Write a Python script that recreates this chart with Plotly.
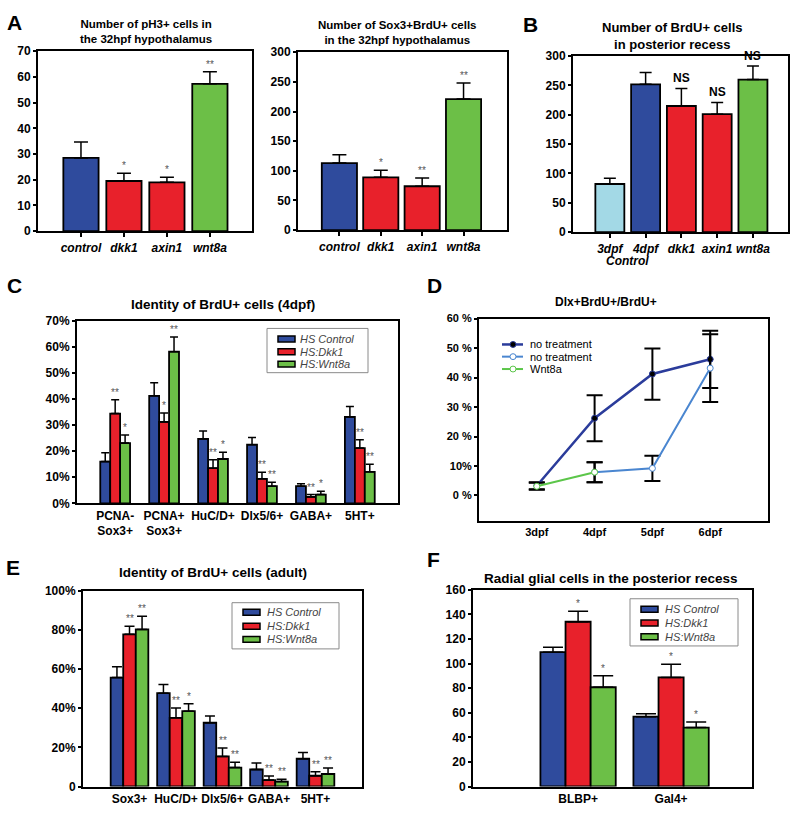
import plotly.graph_objects as go

FW, FH = 800, 823
FONT = "Liberation Sans, Arial, sans-serif"
BLUE = "#2f4b9d"
RED = "#e8212b"
GREEN = "#6cbf47"
CYAN = "#a3d9e6"
D_DARK = "#2b3c9b"
D_LIGHT = "#4a86d0"
D_GREEN = "#5cc64a"
SIG_COLOR = "#555555"

# ---------------- data ----------------
# Panel A (left): pH3+ cells
a_cats = ["control", "dkk1", "axin1", "wnt8a"]
a1_vals = [28.5, 19.5, 19.0, 57.3]
a1_err = [6.2, 3.0, 2.0, 4.7]
a1_sig = ["", "*", "*", "**"]
# Panel A (right): Sox3+BrdU+ cells
a2_vals = [113, 89, 74, 221]
a2_err = [14, 12, 14, 27]
a2_sig = ["", "*", "**", "**"]
# Panel B
b_cats = ["3dpf", "4dpf", "dkk1", "axin1", "wnt8a"]
b_vals = [82, 252, 215, 201, 260]
b_err = [10, 20, 30, 20, 23]
b_sig = ["", "", "NS", "NS", "NS"]
# Panel C (4dpf identity, %)
c_cats = ["PCNA-<br>Sox3+", "PCNA+<br>Sox3+", "HuC/D+", "Dlx5/6+", "GABA+", "5HT+"]
c_ctrl = [16.0, 41.2, 24.7, 22.5, 6.6, 33.1]
c_ctrl_err = [3.4, 5.0, 3.0, 2.7, 0.9, 4.0]
c_dkk1 = [34.4, 31.2, 13.5, 9.4, 2.5, 21.2]
c_dkk1_err = [5.3, 3.4, 3.2, 2.5, 0.9, 3.2]
c_wnt = [23.1, 58.1, 17.0, 6.6, 3.4, 12.1]
c_wnt_err = [3.1, 5.6, 2.6, 1.5, 1.3, 2.9]
c_sig_dkk1 = ["**", "*", "**", "**", "**", "**"]
c_sig_wnt = ["*", "**", "*", "**", "*", "**"]
# Panel D (Dlx+BrdU+/BrdU+, %)
d_days = ["3dpf", "4dpf", "5dpf", "6dpf"]
d_nt_x = ["3dpf", "4dpf", "5dpf", "6dpf"]
d_nt = [3.3, 26.2, 41.2, 46.2]
d_nt_err = [1.2, 7.8, 8.7, 9.7]
d_nt2_x = ["4dpf", "5dpf", "6dpf"]
d_nt2 = [7.9, 9.2, 43.2]
d_nt2_err = [3.4, 4.3, 11.5]
d_wnt_x = ["3dpf", "4dpf"]
d_wnt = [3.1, 7.9]
d_wnt_err = [1.2, 3.4]
d_names = ["no treatment", "no treatment", "Wnt8a"]
# Panel E (adult identity, %)
e_cats = ["Sox3+", "HuC/D+", "Dlx5/6+", "GABA+", "5HT+"]
e_ctrl = [55.7, 47.7, 32.6, 8.7, 14.2]
e_ctrl_err = [5.5, 4.5, 3.4, 3.3, 3.2]
e_dkk1 = [77.8, 35.1, 15.4, 3.3, 5.5]
e_dkk1_err = [4.1, 5.0, 4.3, 2.1, 2.0]
e_wnt = [80.3, 38.5, 9.7, 2.5, 6.4]
e_wnt_err = [6.7, 3.8, 2.7, 1.2, 3.1]
e_sig_dkk1 = ["**", "**", "**", "**", "**"]
e_sig_wnt = ["**", "*", "**", "**", "**"]
# Panel F (radial glial cells)
f_cats = ["BLBP+", "Gal4+"]
f_ctrl = [109.3, 56.8]
f_ctrl_err = [4.0, 2.4]
f_dkk1 = [134.1, 88.8]
f_dkk1_err = [8.6, 10.7]
f_wnt = [80.8, 48.0]
f_wnt_err = [9.3, 4.5]
f_sig_dkk1 = ["*", "*"]
f_sig_wnt = ["*", "*"]
series_names = ["HS Control", "HS:Dkk1", "HS:Wnt8a"]


def px(x):
    return x / FW


def py(y):
    return 1 - y / FH


fig = go.Figure()
ann = []
shapes = []


def err(arr, cap, thick=1.5):
    return dict(type="data", array=arr, arrayminus=[0] * len(arr), symmetric=False,
                color="black", thickness=thick, width=cap)


def sig(xref, yref, xs, tops, sigs, size=10, color=SIG_COLOR, bold=False, shift=0):
    for x, t, s in zip(xs, tops, sigs):
        if s:
            ann.append(dict(x=x, y=t, xref=xref, yref=yref, text=s, showarrow=False,
                            yanchor="bottom", yshift=shift,
                            font=dict(size=size, color=color, family=FONT,
                                      weight="bold" if bold else "normal")))


LINE = dict(color="black", width=1.8)

# ---- A1 ----
fig.add_trace(go.Bar(x=a_cats, y=a1_vals, width=0.82,
                     marker=dict(color=[BLUE, RED, RED, GREEN], line=LINE),
                     error_y=err(a1_err, 7), xaxis="x", yaxis="y", showlegend=False))
sig("x", "y", list(range(4)), [v + e for v, e in zip(a1_vals, a1_err)], a1_sig)
# ---- A2 ----
fig.add_trace(go.Bar(x=a_cats, y=a2_vals, width=0.85,
                     marker=dict(color=[BLUE, RED, RED, GREEN], line=LINE),
                     error_y=err(a2_err, 7), xaxis="x2", yaxis="y2", showlegend=False))
sig("x2", "y2", list(range(4)), [v + e for v, e in zip(a2_vals, a2_err)], a2_sig)
# ---- B ----
fig.add_trace(go.Bar(x=b_cats, y=b_vals, width=0.81,
                     marker=dict(color=[CYAN, BLUE, RED, RED, GREEN], line=LINE),
                     error_y=err(b_err, 6), xaxis="x3", yaxis="y3", showlegend=False))
sig("x3", "y3", list(range(5)), [v + e for v, e in zip(b_vals, b_err)], b_sig,
    size=12, color="black", bold=True, shift=1)

BAR_COLORS = [BLUE, RED, GREEN]


def grouped(cats, groups, errs, sigs, w, xa, ya, cap):
    offs = [-1.5 * w, -0.5 * w, 0.5 * w]
    for k in range(3):
        fig.add_trace(go.Bar(x=cats, y=groups[k], width=w, offset=offs[k], name=series_names[k],
                             marker=dict(color=BAR_COLORS[k], line=LINE),
                             error_y=err(errs[k], cap), xaxis=xa, yaxis=ya, showlegend=False))
        if sigs[k] is not None:
            xs = [i + offs[k] + w / 2 for i in range(len(cats))]
            sig(xa, ya, xs, [v + e for v, e in zip(groups[k], errs[k])], sigs[k])


# ---- C ----
grouped(c_cats, [c_ctrl, c_dkk1, c_wnt], [c_ctrl_err, c_dkk1_err, c_wnt_err],
        [None, c_sig_dkk1, c_sig_wnt], 0.203, "x4", "y4", 4)
# ---- E ----
grouped(e_cats, [e_ctrl, e_dkk1, e_wnt], [e_ctrl_err, e_dkk1_err, e_wnt_err],
        [None, e_sig_dkk1, e_sig_wnt], 0.27, "x6", "y6", 5)
# ---- F ----
grouped(f_cats, [f_ctrl, f_dkk1, f_wnt], [f_ctrl_err, f_dkk1_err, f_wnt_err],
        [None, f_sig_dkk1, f_sig_wnt], 0.27, "x7", "y7", 10)

# ---- D ----
derr = lambda a: dict(type="data", array=a, color="black", thickness=2, width=8)
D_STYLE = [(D_DARK, 2.5, "black"), (D_LIGHT, 2, "white"), (D_GREEN, 2, "white")]
for (xs, ys, es), name, (col, lw, mfill) in zip(
        [(d_nt_x, d_nt, d_nt_err), (d_nt2_x, d_nt2, d_nt2_err), (d_wnt_x, d_wnt, d_wnt_err)],
        d_names, D_STYLE):
    fig.add_trace(go.Scatter(x=xs, y=ys, mode="lines+markers", name=name,
                             line=dict(color=col, width=lw),
                             marker=dict(color=mfill, size=6, line=dict(color=col, width=1)),
                             error_y=derr(es), xaxis="x5", yaxis="y5", showlegend=False))

TF = dict(family=FONT, size=12, color="black", weight="bold")


def xax(x0, x1, anchor, rng, cats, texts, ticks="outside", size=12, italic=False):
    return dict(domain=[px(x0), px(x1)], anchor=anchor, type="category", range=rng,
                tickmode="array", tickvals=cats,
                ticktext=[f"<i>{t}</i>" if italic else t for t in texts],
                showline=True, linecolor="black", linewidth=2, mirror=True,
                showgrid=False, zeroline=False, ticks=ticks, ticklen=4, tickwidth=1.5,
                tickcolor="black", tickfont=dict(TF, size=size), fixedrange=True)


def yax(y0, y1, anchor, rng, dtick=None, tickvals=None, ticktext=None, size=12, suffix=""):
    d = dict(domain=[py(y1), py(y0)], anchor=anchor, range=rng,
             showline=True, linecolor="black", linewidth=2, mirror=True,
             showgrid=False, zeroline=False, ticks="outside", ticklen=3, tickwidth=1.5,
             tickcolor="black", tickfont=dict(TF, size=size), ticksuffix=suffix,
             fixedrange=True)
    if tickvals is not None:
        d.update(tickmode="array", tickvals=tickvals, ticktext=ticktext)
    else:
        d.update(dtick=dtick, tick0=0)
    return d


layout = dict(
    width=FW, height=FH, margin=dict(l=0, r=0, t=0, b=0),
    paper_bgcolor="white", plot_bgcolor="white", barmode="overlay", showlegend=False,
    font=dict(family=FONT, color="black"), hovermode=False,
    xaxis=xax(38, 252, "y", [-1, 3.98], a_cats, a_cats, italic=True),
    yaxis=yax(45, 228, "x", [0, 70], dtick=10),
    xaxis2=xax(298, 507, "y2", [-1, 4.05], a_cats, a_cats, italic=True),
    yaxis2=yax(46, 227, "x2", [0, 300], dtick=50),
    xaxis3=xax(573, 788, "y3", [-1.03, 4.98], b_cats, b_cats, italic=True),
    yaxis3=yax(50, 229, "x3", [0, 300], dtick=50),
    xaxis4=xax(77, 398, "y4", [-0.78, 5.78], c_cats, c_cats, ticks=""),
    yaxis4=yax(319, 505, "x4", [0, 70], dtick=10, suffix="%"),
    xaxis5=xax(479, 768, "y5", [-1, 4], d_days, d_days, ticks="", size=11),
    yaxis5=yax(317, 523, "x5", [-8.7, 60], tickvals=[0, 10, 20, 30, 40, 50, 60],
               ticktext=["0 %", "10%", "20 %", "30 %", "40 %", "50 %", "60 %"], size=11),
    xaxis6=xax(83, 362, "y6", [-1, 5], e_cats, e_cats, ticks=""),
    yaxis6=yax(594, 793, "x6", [0, 100], tickvals=[0, 20, 40, 60, 80, 100],
               ticktext=["0", "20%", "40%", "60%", "80%", "100%"]),
    xaxis7=xax(473, 752, "y7", [-1.13, 1.87], f_cats, f_cats, ticks=""),
    yaxis7=yax(593, 793, "x7", [0, 160], dtick=20),
)


def text(x, y, s, size, bold=True, xanchor="center", color="black", italic=False):
    ann.append(dict(x=px(x), y=py(y), xref="paper", yref="paper", text=s, showarrow=False,
                    xanchor=xanchor, yanchor="middle", align="center",
                    font=dict(family=FONT, size=size, color=color,
                              weight="bold" if bold else "normal",
                              style="italic" if italic else "normal")))


def rect(x0, y0, x1, y1, fill, line_color, lw):
    shapes.append(dict(type="rect", xref="paper", yref="paper", layer="above",
                       x0=px(x0), x1=px(x1), y0=py(y1), y1=py(y0), fillcolor=fill,
                       line=dict(color=line_color, width=lw)))


# legend boxes for the grouped bar panels (C, E, F)
def bar_legend(bx0, by0, bx1, by1, sx, tx, ys):
    rect(bx0, by0, bx1, by1, "white", "#8a8a8a", 1)
    for name, col, yc in zip(series_names, BAR_COLORS, ys):
        rect(sx, yc - 3, sx + 17, yc + 3, col, "black", 1.5)
        text(tx, yc, name, 11, bold=False, xanchor="left", color="#444444", italic=True)


bar_legend(267, 327, 368, 372, 278, 298, [337.7, 350.7, 363.3])
bar_legend(232, 606, 339, 653, 243, 265, [615.7, 630, 643.3])
bar_legend(630, 602, 738, 650, 641, 663, [612.7, 626.7, 640.7])

# legend for D
for name, (col, lw, mfill), yc in zip(d_names, D_STYLE, [343.3, 355.7, 368.3]):
    shapes.append(dict(type="line", xref="paper", yref="paper", layer="above",
                       x0=px(502), x1=px(523), y0=py(yc), y1=py(yc),
                       line=dict(color=col, width=lw)))
    shapes.append(dict(type="circle", xref="paper", yref="paper", layer="above",
                       x0=px(510), x1=px(516), y0=py(yc + 3), y1=py(yc - 3),
                       fillcolor=mfill, line=dict(color=col, width=1)))
    text(528, yc, name, 11, bold=False, xanchor="left")

# titles
text(146, 25, "Number of pH3+ cells in<br>the 32hpf hypothalamus", 11.5)
text(397, 26, "Number of Sox3+BrdU+ cells<br>in the 32hpf hypothalamus", 11.5)
text(672, 30, "Number of BrdU+ cells<br>in posterior recess", 13)
text(223, 303, "Identity of BrdU+ cells (4dpf)", 13.5)
text(606, 300, "Dlx+BrdU+/BrdU+", 12)
text(213, 575, "Identity of BrdU+ cells (adult)", 13.5)
text(611, 581, "Radial glial cells in the posterior recess", 13.5)
# B sub-label under the first two bars
ann.append(dict(x=0.5, y=py(258), xref="x3", yref="paper", text="<i>Control</i>",
                showarrow=False, yanchor="middle",
                font=dict(family=FONT, size=12, color="black", weight="bold")))
# panel letters
for L, x, y in [("A", 14, 16), ("B", 530, 18), ("C", 14, 283), ("D", 435, 283),
                ("E", 13, 570), ("F", 433, 562)]:
    text(x, y, L, 21)

layout["annotations"] = ann
layout["shapes"] = shapes
fig.update_layout(**layout)

# pin the figure to the top-left corner of the page (no default body margin)
POST = ("var gd=document.getElementById('{plot_id}');"
        "document.body.style.margin='0px';"
        "gd.style.position='fixed';gd.style.left='0px';gd.style.top='0px';")
fig.write_html("out.html", post_script=POST, config={"displayModeBar": False})
